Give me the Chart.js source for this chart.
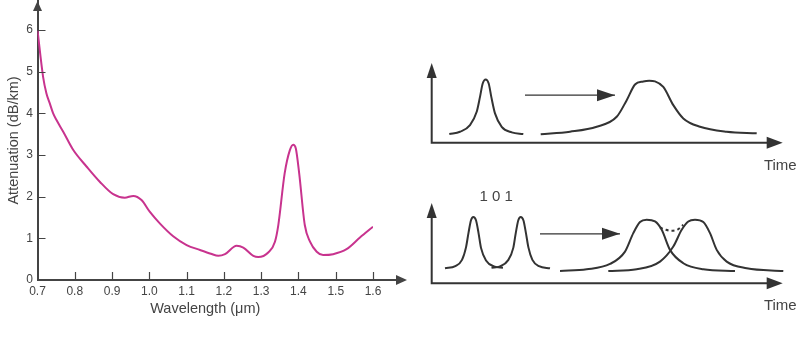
<!DOCTYPE html>
<html>
<head>
<meta charset="utf-8">
<title>Fibre attenuation and pulse spreading</title>
<script src="https://cdn.jsdelivr.net/npm/chart.js@4.4.1/dist/chart.umd.min.js"></script>
<style>
    html, body { margin: 0; padding: 0; background: #fff; }
    #wrap { position: relative; width: 800px; height: 346px; overflow: hidden; }
    canvas { position: absolute; }
    #loss { left: 0; top: 0; }
    #single { left: 420px; top: 55px; }
    #bits { left: 420px; top: 185px; }
</style>
</head>
<body>
<div id="wrap">
    <canvas id="loss" width="410" height="320"></canvas>
    <canvas id="single" width="380" height="120"></canvas>
    <canvas id="bits" width="380" height="135"></canvas>
</div>
<script>
/* DATA */

// attenuation curve (left)
const wavelength = [0.70, 0.715, 0.724, 0.733, 0.742, 0.751, 0.769, 0.796, 0.832, 0.867, 0.903, 0.934, 0.957, 0.979, 1.001, 1.028, 1.064, 1.10, 1.136, 1.165, 1.185, 1.203, 1.234, 1.252, 1.279, 1.292, 1.319, 1.337, 1.346, 1.363, 1.377, 1.386, 1.393, 1.402, 1.417, 1.431, 1.449, 1.466, 1.493, 1.529, 1.565, 1.60];
const attenuation = [6.0, 4.88, 4.48, 4.24, 4.0, 3.84, 3.56, 3.12, 2.72, 2.36, 2.06, 1.975, 2.02, 1.92, 1.64, 1.36, 1.05, 0.84, 0.72, 0.63, 0.58, 0.62, 0.82, 0.78, 0.58, 0.55, 0.66, 0.92, 1.32, 2.56, 3.12, 3.25, 3.16, 2.56, 1.32, 0.92, 0.68, 0.60, 0.62, 0.74, 1.02, 1.28];
const xTicks = [0.7, 0.8, 0.9, 1.0, 1.1, 1.2, 1.3, 1.4, 1.5, 1.6];
const yTicks = [0, 1, 2, 3, 4, 5, 6];

// single pulse before / after (top right)
const narrowTime = [1.76, 2.83, 3.83, 4.5, 4.83, 5.1, 5.4, 5.7, 5.96, 6.33, 7.0, 8.0, 9.16];
const narrowLevel = [0.87, 1.1, 1.77, 3.1, 4.6, 5.94, 6.34, 5.94, 4.6, 2.94, 1.6, 1.04, 0.87];
const wideTime = [10.9, 13.83, 16.5, 18.5, 19.5, 20.33, 21.16, 21.75, 22.33, 23.16, 24.16, 25.16, 26.83, 29.5, 32.5];
const wideLevel = [0.84, 1.1, 1.6, 2.6, 4.27, 5.84, 6.15, 6.22, 6.15, 5.6, 3.77, 2.44, 1.6, 1.1, 0.94];
const arrowTopTime = [9.33, 18.33];
const arrowTopLevel = [4.77, 4.77];

// "1 0 1" bit pattern before / after (bottom right)
const bitOneTime = [1.33, 2.36, 3.03, 3.43, 3.68, 3.93, 4.16, 4.43, 4.68, 4.93, 5.43, 6.23, 7.13];
const bitOneLevel = [1.5, 1.7, 2.33, 3.58, 5.03, 6.28, 6.6, 6.28, 5.03, 3.53, 2.28, 1.68, 1.55];
const bitThreeTime = [5.98, 6.83, 7.63, 8.16, 8.41, 8.66, 8.9, 9.17, 9.42, 9.67, 10.07, 10.73, 11.83];
const bitThreeLevel = [1.55, 1.68, 2.28, 3.53, 5.03, 6.28, 6.6, 6.28, 5.03, 3.58, 2.33, 1.7, 1.5];
const arrowBitsTime = [10.83, 18.83];
const arrowBitsLevel = [4.93, 4.93];
const spreadOneTime = [12.83, 15.5, 17.83, 19.33, 20.16, 20.83, 21.5, 22.33, 23.0, 23.83, 25.16, 27.16, 30.33];
const spreadOneLevel = [1.23, 1.4, 1.93, 3.16, 5.0, 6.1, 6.33, 6.16, 5.33, 3.33, 2.0, 1.4, 1.23];
const spreadThreeTime = [17.66, 20.5, 22.83, 24.16, 25.0, 25.66, 26.33, 27.16, 27.83, 28.5, 29.5, 31.5, 35.16];
const spreadThreeLevel = [1.23, 1.4, 2.16, 3.66, 5.33, 6.16, 6.33, 6.1, 5.0, 3.33, 2.16, 1.5, 1.23];
const overlapTime = [22.83, 23.43, 24.0, 24.63, 25.16];
const overlapLevel = [5.56, 5.33, 5.23, 5.38, 5.83];

/* STYLE */

const ink = '#444';
const pulseInk = '#333';
const magenta = '#c8338e';
const family = '"Liberation Sans", Arial, Helvetica, sans-serif';

Chart.defaults.font.family = family;
Chart.defaults.color = ink;

function pts(xs, ys) {
    return xs.map((x, i) => ({ x: x, y: ys[i] }));
}

function arrowHead(ctx, x, y, dir, len, half) {
    ctx.beginPath();
    if (dir === 'up') {
        ctx.moveTo(x, y);
        ctx.lineTo(x - half, y + len);
        ctx.lineTo(x + half, y + len);
    } else {
        ctx.moveTo(x, y);
        ctx.lineTo(x - len, y - half);
        ctx.lineTo(x - len, y + half);
    }
    ctx.closePath();
    ctx.fill();
}

/* ATTENUATION CHART */

// inward tick marks, longer x axis and arrow heads
const lossAxes = {
    id: 'lossAxes',
    afterDraw(chart) {
        const { ctx, chartArea: a, scales: { x, y } } = chart;
        ctx.save();
        ctx.strokeStyle = ink;
        ctx.fillStyle = ink;
        ctx.lineWidth = 2;
        ctx.beginPath();
        ctx.moveTo(a.right - 1, a.bottom);
        ctx.lineTo(a.right + 26, a.bottom);
        ctx.stroke();
        arrowHead(ctx, a.right + 34, a.bottom, 'right', 11, 5);
        arrowHead(ctx, a.left, a.top, 'up', 10, 4.5);

        ctx.lineWidth = 1.2;
        ctx.beginPath();
        yTicks.forEach(v => {
            if (v === 0) return;
            const py = Math.round(y.getPixelForValue(v)) + 0.5;
            ctx.moveTo(a.left, py);
            ctx.lineTo(a.left + 8, py);
        });
        xTicks.forEach((v, i) => {
            if (i === 0) return;
            const px = Math.round(x.getPixelForValue(v)) + 0.5;
            ctx.moveTo(px, a.bottom);
            ctx.lineTo(px, a.bottom - 8);
        });
        ctx.stroke();
        ctx.restore();
    }
};

new Chart(document.getElementById('loss'), {
    type: 'line',
    data: {
        datasets: [{
            data: pts(wavelength, attenuation),
            borderColor: magenta,
            borderWidth: 2,
            pointRadius: 0,
            cubicInterpolationMode: 'monotone',
            fill: false,
        }],
    },
    options: {
        responsive: false,
        animation: false,
        events: [],
        layout: { padding: { left: 0, right: 37, top: 1, bottom: 0 } },
        plugins: { legend: { display: false }, tooltip: { enabled: false } },
        scales: {
            x: {
                type: 'linear',
                min: 0.7,
                max: 1.6,
                afterBuildTicks: s => { s.ticks = xTicks.map(v => ({ value: v })); },
                afterFit: s => { s.height = 40; s.paddingLeft = 0; s.paddingRight = 0; },
                grid: { display: false, drawTicks: false },
                border: { color: ink, width: 2 },
                ticks: { padding: 4, font: { size: 12 }, color: ink, maxRotation: 0, callback: v => v.toFixed(1) },
                title: { display: true, text: 'Wavelength (\u03bcm)', font: { size: 14.5 }, color: ink, padding: { top: 0, bottom: 2 } },
            },
            y: {
                min: 0,
                max: 6.7,
                afterBuildTicks: s => { s.ticks = yTicks.map(v => ({ value: v })); },
                afterFit: s => { s.width = 37.5; s.paddingTop = 0; s.paddingBottom = 0; },
                grid: { display: false, drawTicks: false },
                border: { color: ink, width: 2 },
                ticks: { padding: 4.5, font: { size: 12 }, color: ink, callback: v => String(v) },
                title: { display: true, text: 'Attenuation (dB/km)', font: { size: 14.5 }, color: ink, padding: { top: 5, bottom: 0 } },
            },
        },
    },
    plugins: [lossAxes],
});

/* PULSE DIAGRAMS */

const pulseAxes = {
    id: 'pulseAxes',
    afterDatasetsDraw(chart, args, opts) {
        const { ctx, chartArea: a, scales: { x, y } } = chart;
        const ox = x.getPixelForValue(0);
        const oy = y.getPixelForValue(0);
        ctx.save();
        ctx.strokeStyle = pulseInk;
        ctx.fillStyle = pulseInk;
        ctx.lineWidth = 2;
        ctx.beginPath();
        ctx.moveTo(ox, a.top + 10);
        ctx.lineTo(ox, oy);
        ctx.lineTo(a.right - 10, oy);
        ctx.stroke();
        arrowHead(ctx, ox, a.top, 'up', 15, 5);
        arrowHead(ctx, a.right, oy, 'right', 16, 6);

        chart.data.datasets.forEach((ds, i) => {
            if (!ds.arrow) return;
            const p = chart.getDatasetMeta(i).data;
            const end = p[p.length - 1];
            arrowHead(ctx, end.x, end.y, 'right', 18, 6);
        });

        ctx.fillStyle = ink;
        ctx.font = '15px ' + family;
        ctx.textAlign = 'right';
        ctx.textBaseline = 'middle';
        ctx.fillText(opts.axisLabel, a.right + 14, oy + 23);
        if (opts.bits) {
            ctx.textAlign = 'center';
            ctx.fillText(opts.bits, x.getPixelForValue(opts.bitsAt), a.top - 6.5);
        }
        ctx.restore();
    }
};

function pulse(xs, ys, extra) {
    return Object.assign({
        data: pts(xs, ys),
        borderColor: pulseInk,
        borderWidth: 2,
        pointRadius: 0,
        cubicInterpolationMode: 'monotone',
        fill: false,
        clip: false,
    }, extra || {});
}

function arrowLine(xs, ys) {
    return {
        data: pts(xs, ys),
        borderColor: pulseInk,
        borderWidth: 1.3,
        pointRadius: 0,
        tension: 0,
        arrow: true,
        clip: false,
    };
}

function pulseOptions(padding, plugin) {
    return {
        responsive: false,
        animation: false,
        events: [],
        layout: { padding: padding },
        plugins: { legend: { display: false }, tooltip: { enabled: false }, pulseAxes: plugin },
        scales: {
            x: { type: 'linear', min: 0, max: 35.1, display: false },
            y: { min: 0, max: 8, display: false },
        },
    };
}

new Chart(document.getElementById('single'), {
    type: 'line',
    data: {
        datasets: [
            pulse(narrowTime, narrowLevel),
            pulse(wideTime, wideLevel),
            arrowLine(arrowTopTime, arrowTopLevel),
        ],
    },
    options: pulseOptions({ left: 11.7, right: 17.3, top: 8, bottom: 32.3 }, { axisLabel: 'Time' }),
    plugins: [pulseAxes],
});

new Chart(document.getElementById('bits'), {
    type: 'line',
    data: {
        datasets: [
            pulse(bitOneTime, bitOneLevel),
            pulse(bitThreeTime, bitThreeLevel),
            arrowLine(arrowBitsTime, arrowBitsLevel),
            pulse(spreadOneTime, spreadOneLevel),
            pulse(spreadThreeTime, spreadThreeLevel),
            pulse(overlapTime, overlapLevel, { borderDash: [3, 3] }),
        ],
    },
    options: pulseOptions({ left: 11.7, right: 17.3, top: 18, bottom: 36.7 }, { axisLabel: 'Time', bits: '1 0 1', bitsAt: 6.45 }),
    plugins: [pulseAxes],
});
</script>
</body>
</html>
